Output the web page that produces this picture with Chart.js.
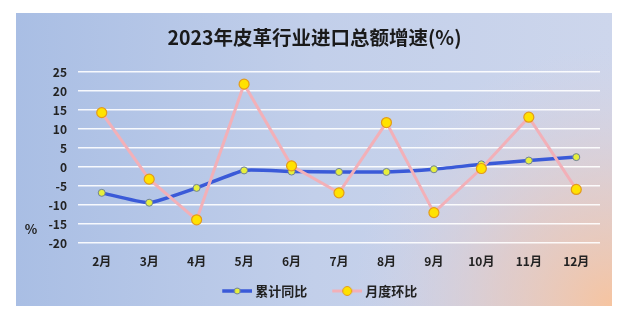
<!DOCTYPE html>
<html>
<head>
<meta charset="utf-8">
<script src="https://cdn.jsdelivr.net/npm/chart.js@4"></script>
<style>
  html, body { margin: 0; padding: 0; background: #fff; }
  #wrap { width: 629px; height: 323px; }
</style>
</head>
<body>
<div id="wrap"><canvas id="chart" width="629" height="323"></canvas></div>
<script>
// data
const months = ['2月', '3月', '4月', '5月', '6月', '7月', '8月', '9月', '10月', '11月', '12月'];
const cumulativeYoY = [-6.8, -9.4, -5.5, -0.9, -1.2, -1.3, -1.3, -0.6, 0.7, 1.7, 2.6];
const monthlyMoM = [14.3, -3.2, -13.9, 21.8, 0.3, -6.8, 11.7, -12.0, -0.4, 13.1, -5.9];
const seriesNames = ['累计同比', '月度环比'];
const chartTitle = '2023年皮革行业进口总额增速(%)';

const FONT = "'Noto Sans CJK SC', 'Noto Sans', sans-serif";
const blue = '#3a5ad8';
const pink = '#f2b0b8';

// legend marker: a short line with a dot, drawn on a small canvas
// (line sits in the right 30px so it ends just before the text)
function legendMarker(lineColor, lineWidth, dotR, dotFill, dotStroke) {
    const c = document.createElement('canvas');
    c.width = 44; c.height = 12;
    const g = c.getContext('2d');
    g.strokeStyle = lineColor;
    g.lineWidth = lineWidth;
    g.beginPath(); g.moveTo(14, 6); g.lineTo(44, 6); g.stroke();
    g.beginPath(); g.arc(29, 6, dotR, 0, Math.PI * 2);
    g.fillStyle = dotFill; g.fill();
    g.strokeStyle = dotStroke; g.lineWidth = 1; g.stroke();
    return c;
}
const markers = [
    legendMarker(blue, 3.5, 3, '#e6ef3c', '#6f8199'),
    legendMarker(pink, 3, 4.5, '#ffe200', '#e39a1c')
];

// panel background + "%" label
const panelPlugin = {
    id: 'panel',
    beforeDraw(chart) {
        const ctx = chart.ctx;
        ctx.save();
        ctx.fillStyle = '#fff';
        ctx.fillRect(0, 0, chart.width, chart.height);
        const x = 16, y = 13, w = 596, h = 293;
        const lin = ctx.createLinearGradient(x, 0, x + w, 0);
        lin.addColorStop(0, '#a9bee4');
        lin.addColorStop(0.5, '#c2cfea');
        lin.addColorStop(1, '#cdd6ec');
        ctx.fillStyle = lin;
        ctx.fillRect(x, y, w, h);
        const rad = ctx.createRadialGradient(x + w, y + h, 0, x + w, y + h, 260);
        rad.addColorStop(0, 'rgba(246,196,160,1)');
        rad.addColorStop(0.45, 'rgba(236,200,186,0.6)');
        rad.addColorStop(1, 'rgba(220,210,225,0)');
        ctx.fillStyle = rad;
        ctx.fillRect(x, y, w, h);
        ctx.restore();
    },
    afterDraw(chart) {
        const ctx = chart.ctx;
        ctx.save();
        ctx.font = 'bold 13px ' + FONT;
        ctx.fillStyle = '#222';
        ctx.textAlign = 'center';
        ctx.textBaseline = 'middle';
        ctx.fillText('%', 31, 229);
        ctx.restore();
    }
};

const ctx = document.getElementById('chart').getContext('2d');
const chart = new Chart(ctx, {
    type: 'line',
    data: {
        labels: months,
        datasets: [{
            label: seriesNames[0],
            data: cumulativeYoY,
            borderColor: blue,
            borderWidth: 3.5,
            pointRadius: 3.5,
            pointBackgroundColor: '#e6ef3c',
            pointBorderColor: '#6f8199',
            pointBorderWidth: 1,
            tension: 0.15,
            order: 1
        }, {
            label: seriesNames[1],
            data: monthlyMoM,
            borderColor: pink,
            borderWidth: 3,
            pointRadius: 5,
            pointBackgroundColor: '#ffe200',
            pointBorderColor: '#e39a1c',
            pointBorderWidth: 1.2,
            tension: 0,
            order: 0
        }]
    },
    options: {
        responsive: false,
        animation: false,
        layout: { padding: { left: 0, right: 0, top: 0, bottom: 15.5 } },
        plugins: {
            title: {
                display: true,
                text: chartTitle,
                color: '#1a1a1a',
                font: { family: FONT, size: 19.5, weight: 'bold' },
                padding: { top: 26, bottom: 22.6 }
            },
            legend: {
                position: 'bottom',
                labels: {
                    color: '#222',
                    font: { family: FONT, size: 13, weight: 'bold' },
                    usePointStyle: true,
                    pointStyleWidth: 37,
                    padding: 14.5,
                    generateLabels(chart) {
                        const items = Chart.defaults.plugins.legend.labels.generateLabels(chart);
                        items.forEach(it => { it.pointStyle = markers[it.datasetIndex]; });
                        return items.sort((a, b) => a.datasetIndex - b.datasetIndex);
                    }
                }
            },
            tooltip: { enabled: false }
        },
        scales: {
            x: {
                offset: true,
                grid: { display: false, drawTicks: false },
                border: { display: false },
                ticks: {
                    color: '#222',
                    padding: 11,
                    font: { family: FONT, size: 12, weight: 'bold' }
                },
                afterFit(scale) { scale.height = 27; }
            },
            y: {
                min: -20,
                max: 25,
                ticks: {
                    stepSize: 5,
                    color: '#222',
                    padding: 11,
                    font: { family: FONT, size: 12, weight: 'bold' }
                },
                grid: { color: 'rgba(255,255,255,0.9)', lineWidth: 1.5, drawTicks: false },
                border: { display: false },
                afterFit(scale) { scale.width = 78; }
            },
            // empty right-hand axis, only to keep the plot clear of the right edge
            yRight: {
                position: 'right',
                grid: { display: false },
                border: { display: false },
                ticks: { display: false },
                afterFit(scale) { scale.width = 29; }
            }
        }
    },
    plugins: [panelPlugin]
});
</script>
</body>
</html>
